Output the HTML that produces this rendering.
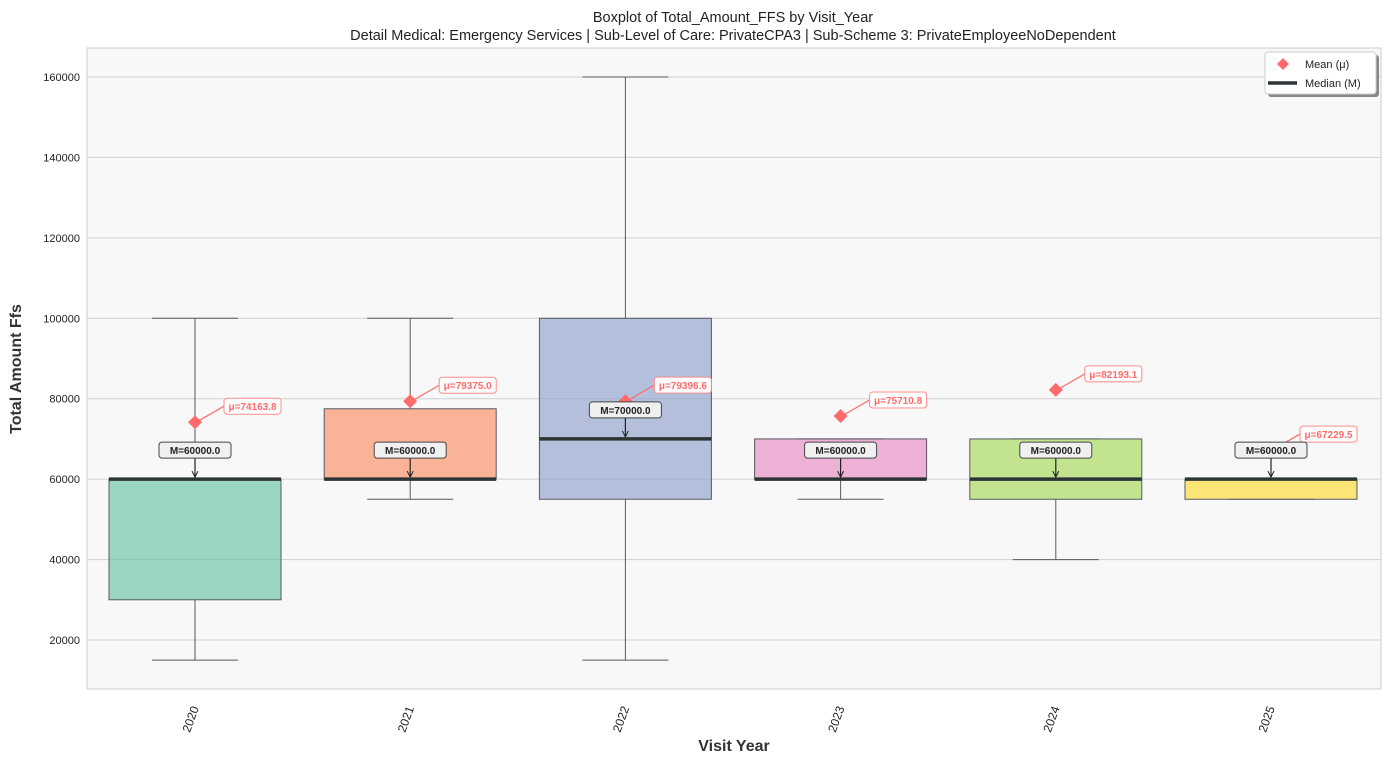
<!DOCTYPE html>
<html><head><meta charset="utf-8"><style>
body{margin:0;background:#fff;font-family:"Liberation Sans",sans-serif}
</style></head><body>
<svg id="chart" width="1389" height="763" xmlns="http://www.w3.org/2000/svg" font-family="Liberation Sans, sans-serif">
<text x="733" y="22" text-anchor="middle" font-size="14.5" fill="#222">Boxplot of Total_Amount_FFS by Visit_Year</text>
<text x="733" y="40" text-anchor="middle" font-size="14.5" fill="#222">Detail Medical: Emergency Services | Sub-Level of Care: PrivateCPA3 | Sub-Scheme 3: PrivateEmployeeNoDependent</text>
<rect x="87" y="48" width="1294" height="641" fill="#f8f8f8" stroke="#ccc"/>
<g id="grid"></g><g id="marks"></g><g id="ann"></g>
<text transform="translate(21,369) rotate(-90)" text-anchor="middle" font-size="16" font-weight="bold" fill="#333">Total Amount Ffs</text>
<text x="734" y="751" text-anchor="middle" font-size="16" font-weight="bold" fill="#333">Visit Year</text>
<g>
<rect x="1268" y="55" width="111" height="42" fill="#888" rx="3"/>
<rect x="1265" y="52" width="111" height="42" fill="#fff" stroke="#ccc" rx="3"/>
<path d="M1283 58 L1289 64 L1283 70 L1277 64Z" fill="#ff6b6b"/>
<text x="1305" y="68" font-size="11" fill="#222">Mean (μ)</text>
<line x1="1268" y1="83" x2="1297" y2="83" stroke="#2d3436" stroke-width="3.5"/>
<text x="1305" y="87" font-size="11" fill="#222">Median (M)</text>
</g>
</svg>
<script>
const years=["2020","2021","2022","2023","2024","2025"];
const whisLo=[15000,55000,15000,55000,40000,55000];
const q1=[30000,60000,55000,60000,55000,55000];
const med=[60000,60000,70000,60000,60000,60000];
const q3=[60000,77500,100000,70000,70000,60000];
const whisHi=[100000,100000,160000,70000,70000,60000];
const means=[74163.8,79375.0,79396.6,75710.8,82193.1,67229.5];
const yTicks=[20000,40000,60000,80000,100000,120000,140000,160000];
const colors=["#66c2a5","#fc8d62","#8da0cb","#e78ac3","#a6d854","#ffd92f"];
const NS="http://www.w3.org/2000/svg";
const y=v=>720.43-v*0.0040214;
const x=i=>195+i*215.2;
function mk(t,a,p){const e=document.createElementNS(NS,t);for(const k in a)e.setAttribute(k,a[k]);p.appendChild(e);return e;}
const grid=document.getElementById('grid'),marks=document.getElementById('marks'),ann=document.getElementById('ann');
yTicks.forEach(v=>{
 const l=mk('line',{x1:87,x2:1381,y1:y(v),y2:y(v),stroke:'#d0d0d0'},grid);
 
 
 const t=mk('text',{x:80,y:y(v)+4,'text-anchor':'end','font-size':11,fill:'#222'},grid);
 t.textContent=v;
 
 
});
years.forEach((yr,i)=>{
 const cx=x(i),w=86;
 const g=mk('g',{},marks);
 
 
 mk('line',{x1:cx,x2:cx,y1:y(whisHi[i]),y2:y(q3[i]),stroke:'#555a5e'},g);
 mk('line',{x1:cx,x2:cx,y1:y(q1[i]),y2:y(whisLo[i]),stroke:'#555a5e'},g);
 mk('line',{x1:cx-43,x2:cx+43,y1:y(whisHi[i]),y2:y(whisHi[i]),stroke:'#555a5e'},g);
 mk('line',{x1:cx-43,x2:cx+43,y1:y(whisLo[i]),y2:y(whisLo[i]),stroke:'#555a5e'},g);
 mk('rect',{x:cx-w,y:y(q3[i]),width:2*w,height:Math.max(0.5,y(q1[i])-y(q3[i])),fill:colors[i],'fill-opacity':0.65,stroke:'#555a5e'},g);
 mk('line',{x1:cx-w,x2:cx+w,y1:y(med[i]),y2:y(med[i]),stroke:'#2d3436','stroke-width':3.5},g);
 const my=y(means[i]);
 const d=mk('path',{d:`M${cx} ${my-7} L${cx+7} ${my} L${cx} ${my+7} L${cx-7} ${my}Z`,fill:'#ff6b6b'},g);
 
 
 const tl=mk('text',{x:cx+(i<2?-x(i)+x(i):0),y:720,'text-anchor':'end','font-size':12,fill:'#222',transform:`rotate(-70 ${cx+4} 708)`},g);
 tl.setAttribute('x',cx+4);tl.setAttribute('y',708);
 tl.textContent=yr;
 
 
 // mean annotation
 const ma=mk('g',{},ann);
 
 
 const lx=cx+29,ly=my-16;
 mk('line',{x1:cx+3,y1:my-1,x2:lx,y2:ly,stroke:'#ff6b6b','stroke-width':1.2},ma);
 mk('rect',{x:lx,y:ly-8,width:57,height:16,rx:3,fill:'#fff',stroke:'#ff8a8a'},ma);
 const mt=mk('text',{x:lx+28.5,y:ly+4,'text-anchor':'middle','font-size':10,'font-weight':'bold',fill:'#ff6b6b'},ma);
 mt.textContent='μ='+means[i].toFixed(1);
 // median annotation
 const da=mk('g',{},ann);
 
 
 const dy=y(med[i])-29;
 mk('line',{x1:cx,y1:dy+8,x2:cx,y2:y(med[i])-3,stroke:'#222','stroke-width':1.2},da);
 mk('path',{d:`M${cx-3} ${y(med[i])-8} L${cx} ${y(med[i])-2} L${cx+3} ${y(med[i])-8}`,fill:'none',stroke:'#222'},da);
 mk('rect',{x:cx-36,y:dy-8,width:72,height:16,rx:3,fill:'#f0f0f0',stroke:'#444'},da);
 const dt=mk('text',{x:cx,y:dy+4,'text-anchor':'middle','font-size':10,'font-weight':'bold',fill:'#222'},da);
 dt.textContent='M='+med[i].toFixed(1);
});
</script>
</body></html>
